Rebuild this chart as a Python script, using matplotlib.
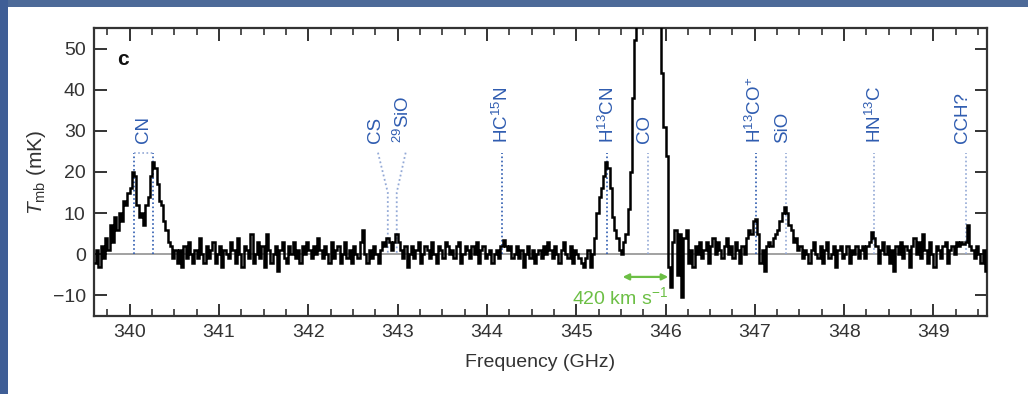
import numpy as np
import matplotlib
matplotlib.use("Agg")
import matplotlib.pyplot as plt
from matplotlib.patches import Rectangle

plt.rcParams['font.family'] = ['Liberation Sans', 'DejaVu Sans']
plt.rcParams['mathtext.fontset'] = 'custom'
plt.rcParams['mathtext.rm'] = 'Liberation Sans'
plt.rcParams['mathtext.it'] = 'Liberation Sans:italic'
plt.rcParams['mathtext.bf'] = 'Liberation Sans:bold'

# Spectrum: channel edges (GHz) and main-beam temperature per channel (mK)
freq_start = 339.6
chan_width = 0.025
tmb = [
    # 339.6 - 340.1
    -2, 1, -3, 2, -1, 4, 1, 7, 3, 9, 6, 10, 8, 13, 12, 15, 16, 20, 19, 12,
    # 340.1 - 340.6  (CN)
    9, 10, 7, 12, 14, 19, 22.5, 21, 17, 13, 12, 8, 6, 3, 2, -1, 1, -2, 1, -3,
    # 340.6 - 341.1
    2, -1, 3, 0, -2, 1, -1, 4, 0, -2, 2, -1, 1, 3, -2, 0, 2, -3, 1, 0,
    # 341.1 - 341.6
    -1, 3, 1, -2, 4, 0, -3, 2, 1, -1, 5, -2, 0, 3, -1, 2, -3, 5, 1, -2,
    # 341.6 - 342.1
    0, 2, -4, 1, 3, -1, -2, 2, 0, 3, -1, 1, -2, 2, 0, 3, 1, -1, 2, 0,
    # 342.1 - 342.6
    4, 1, -1, 2, 0, -2, 3, -1, 1, 2, -2, 0, 3, -1, 1, -2, 2, 0, -1, 3,
    # 342.6 - 343.1  (CS, 29SiO)
    6, 0, -2, 1, -1, 2, 0, -2, 1, 3, 2, 4, 3, 1, 3, 5, 3, 1, -1, 2,
    # 343.1 - 343.6
    -3, 0, 2, -1, 1, 3, -2, 0, 2, 1, -1, 3, 0, -2, 2, 1, -1, 3, 2, 0,
    # 343.6 - 344.1
    1, -1, 2, 3, -2, 0, 2, 1, -1, 2, 0, 3, -2, 1, 2, -1, 0, 1, -2, 0,
    # 344.1 - 344.6  (HC15N)
    1, -1, 2, 3.5, 2, 1, 2, -1, 0, 2, -1, 1, -3, 0, 2, -1, 1, -2, 0, 1,
    # 344.6 - 345.1
    -1, 2, 0, 3, 1, -1, 2, 0, -2, 1, 3, 0, -1, 2, -2, 1, 0, -1, -2, -3,
    # 345.1 - 345.6  (H13CN)
    -1, 1, -3, 0, 4, 10, 14, 16, 19, 22.5, 21, 16, 9, 6, 4, 1, 0, 3, 5, 11,
    # 345.6 - 346.1  (CO)
    20, 38, 52, 68, 80, 88, 92, 95, 93, 90, 85, 78, 70, 60, 44, 31, 24, -3, -8, 3,
    # 346.1 - 346.6
    6, -5, 5, -10.5, 4, 6, -2, 1, -3, 2, 0, 3, -1, 1, 3, -2, 2, 4, 0, 3,
    # 346.6 - 347.1  (H13CO+)
    1, -1, 2, 4, 0, 2, -1, 3, 1, -2, 2, 0, 4, 6, 5, 8, 8.5, 5, -2, 1,
    # 347.1 - 347.6  (SiO)
    -4, 2, 3, 2, 4, 5, 6, 8, 10, 11.5, 10, 7, 6, 3, 4, 1, 2, -1, 1, 0,
    # 347.6 - 348.1
    -2, 1, 3, 0, -1, 2, -2, 1, 3, -1, 0, 2, -3, 1, 2, -1, 0, 2, -2, 1,
    # 348.1 - 348.6  (HN13C)
    0, 2, -1, 1, 2, -1, 2, 3, 5.5, 4, 2, -2, 1, 3, 0, 2, -2, 1, -4, 2,
    # 348.6 - 349.1
    0, 3, -1, 2, 1, -3, 2, 4, 0, 3, -1, 5, 1, -2, 3, 0, -3, 2, 1, -1,
    # 349.1 - 349.6  (CCH?)
    2, 3, -2, 1, 2, 0, 3, 2, 3, 2.5, 3, 7, 2, 1, -1, 2, 0, -2, 1, -4,
]

# Line identifications: label text, label position, line position (GHz)
line_labels = [r'H$^{13}$CN', 'CO', r'H$^{13}$CO$^{+}$', 'SiO', r'HN$^{13}$C', 'CCH?', r'HC$^{15}$N']
label_freqs = [345.35, 345.77, 347.00, 347.31, 348.34, 349.33, 344.17]
line_freqs = [345.35, 345.80, 347.01, 347.35, 348.34, 349.37, 344.17]
line_dark = [True, False, True, False, False, False, True]

cn_freqs = [340.045, 340.26]
pair_labels = ['CS', r'$^{29}$SiO']
pair_label_freqs = [342.75, 343.06]
pair_line_freqs = [342.89, 342.99]

xticks = [340, 341, 342, 343, 344, 345, 346, 347, 348, 349]
yticks = [-10, 0, 10, 20, 30, 40, 50]

blue_txt = '#2f5cb0'
blue_dark = '#2f5cb0'
blue_light = '#93a9d6'
green = '#6cbf45'
ink = '#333333'

fig = plt.figure(figsize=(10.28, 3.94), dpi=100)
fig.patch.set_facecolor('white')
# slide border
fig.add_artist(Rectangle((0, 1 - 7 / 394), 1, 7 / 394, transform=fig.transFigure,
                         facecolor='#4d6a98', edgecolor='none', zorder=-5))
fig.add_artist(Rectangle((0, 0), 8 / 1028, 1, transform=fig.transFigure,
                         facecolor='#3f5e96', edgecolor='none', zorder=-5))

ax = fig.add_axes([94 / 1028, 78 / 394, 893 / 1028, 288 / 394])

edges = freq_start + chan_width * np.arange(len(tmb) + 1)
ax.axhline(0, color='#9a9a9a', lw=1.3, zorder=1)
ax.stairs(tmb, edges, color='black', lw=1.8, baseline=None, zorder=3)

top_line = 24.7
label_base = 27.0
lab_fs = 13.5

# CN doublet
for f in cn_freqs:
    ax.plot([f, f], [0, top_line], ls=(0, (1, 1.5)), color=blue_dark, lw=1.2, zorder=2)
ax.plot(cn_freqs, [top_line, top_line], ls=(0, (1, 1.5)), color=blue_light, lw=1.2, zorder=2)
ax.text(np.mean(cn_freqs), label_base, 'CN', rotation=90, ha='center', va='bottom',
        color=blue_txt, fontsize=lab_fs)

# CS / 29SiO with slanted leaders
for lab, lf, f in zip(pair_labels, pair_label_freqs, pair_line_freqs):
    ax.plot([lf + 0.03, f, f], [top_line, 15, 0],
            ls=(0, (1, 1.5)), color=blue_light, lw=1.3, zorder=2)
    ax.text(lf, label_base, lab, rotation=90, ha='center', va='bottom',
            color=blue_txt, fontsize=lab_fs)

for lab, lf, f, dark in zip(line_labels, label_freqs, line_freqs, line_dark):
    ax.plot([f, f], [0, top_line], ls=(0, (1, 1.5)),
            color=blue_dark if dark else blue_light, lw=1.2, zorder=2)
    ax.text(lf, label_base, lab, rotation=90, ha='center', va='bottom',
            color=blue_txt, fontsize=lab_fs)

# velocity-width scale bar
ax.annotate('', xy=(345.52, -5.5), xytext=(346.03, -5.5),
            arrowprops=dict(arrowstyle='<|-|>', color=green, lw=1.6,
                            mutation_scale=9, shrinkA=0, shrinkB=0))
ax.text(345.49, -10.3, r'420 km s$^{-1}$', ha='center', va='center', color=green, fontsize=14)

ax.text(0.032, 0.89, 'c', transform=ax.transAxes, fontsize=15, fontweight='bold',
        ha='center', va='center', color='#111111')

ax.set_xlim(339.6, 349.6)
ax.set_ylim(-15, 55)
ax.set_xticks(xticks)
ax.set_yticks(yticks)
ax.set_xticks(np.arange(339.75, 349.6, 0.25), minor=True)
ax.set_xticklabels([str(t) for t in xticks])
ax.set_yticklabels(['\u221210' if t < 0 else str(t) for t in yticks])
ax.tick_params(axis='both', which='major', direction='in', length=9, width=1.4,
               top=True, right=True, labelsize=14, colors=ink, pad=6)
ax.tick_params(axis='x', which='minor', direction='in', length=5, width=1.2,
               top=True, colors=ink)
ax.tick_params(axis='y', which='both', labelcolor=ink)
for s in ax.spines.values():
    s.set_linewidth(1.6)
    s.set_color(ink)

ax.set_xlabel('Frequency (GHz)', fontsize=14, color=ink, labelpad=9)
ax.set_ylabel(r'$T_{\mathrm{mb}}$ (mK)', fontsize=15, color=ink, labelpad=3)

fig.savefig('out.png', dpi=100, facecolor=fig.get_facecolor())
